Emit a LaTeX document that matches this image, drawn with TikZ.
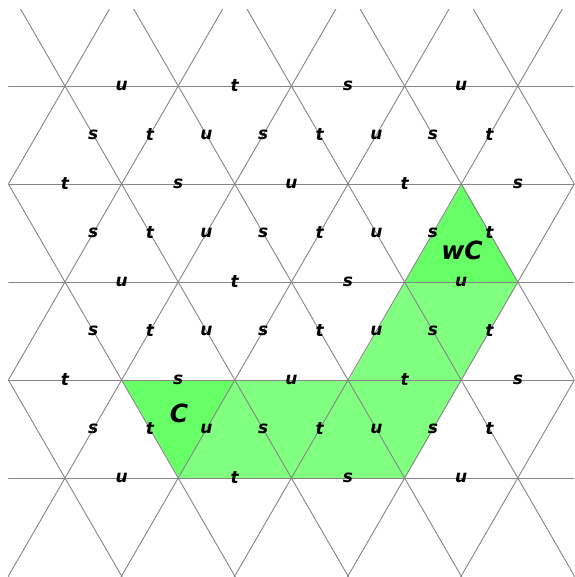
\documentclass[tikz,border=0pt]{standalone}
\usepackage{fontspec}
\setmainfont{DejaVu Sans}
\definecolor{latgray}{HTML}{858585}
\definecolor{darkgreen}{HTML}{66FF66}
\definecolor{lightgreen}{HTML}{80FF80}
\tikzset{
  latline/.style={draw=latgray, line width=0.9pt},
  edgelab/.style={font=\fontsize{17}{17}\selectfont\bfseries\itshape, inner sep=0pt},
  biglab/.style={font=\fontsize{25}{25}\selectfont\bfseries\itshape, inner sep=0pt}
}
\begin{document}
\begin{tikzpicture}[x=1pt,y=-1pt]
\useasboundingbox (0,0) rectangle (574,577);
% fills
\path[fill=lightgreen] (179,478) -- (235,380) -- (349,380) -- (405,282) -- (518,282) -- (405,478) -- cycle;
\path[fill=darkgreen] (122,380) -- (235,380) -- (179,478) -- cycle;
\path[fill=darkgreen] (462,184) -- (405,282) -- (518,282) -- cycle;
% lattice
\begin{scope}
\clip (8.4,10) rectangle (574.4,577);
\foreach \m in {-6,...,10}{
  \pgfmathsetmacro{\xx}{8.4+113.2*\m}
  \draw[latline] (\xx+5.66,585.8) -- (\xx-339.6,-12);
  \draw[latline] (\xx-5.66,585.8) -- (\xx+339.6,-12);
}
\foreach \yy in {86,184,282,380,478}{
  \draw[latline] (8.4,\yy) -- (574.4,\yy);
}
\end{scope}
% horizontal edge labels
\foreach \l [count=\i] in {u,t,s,u}{
  \node[edgelab] (ha\i) at (8.4+56.6+113.2*\i-56.6,86) {\l};
}
\foreach \l [count=\i] in {t,s,u,t,s}{
  \node[edgelab] (hb\i) at (65+113.2*\i-113.2,184) {\l};
}
\foreach \l [count=\i] in {u,t,s,u}{
  \node[edgelab] (hc\i) at (8.4+56.6+113.2*\i-56.6,282) {\l};
}
\foreach \l [count=\i] in {t,s,u,t,s}{
  \node[edgelab] (hd\i) at (65+113.2*\i-113.2,380) {\l};
}
\foreach \l [count=\i] in {u,t,s,u}{
  \node[edgelab] (he\i) at (8.4+56.6+113.2*\i-56.6,478) {\l};
}
% diagonal edge labels
\foreach \yy/\r in {135/a,233/b,331/c,429/d}{
  \foreach \l [count=\i] in {s,t,u,s,t,u,s,t}{
    \node[edgelab] (d\r\i) at (93.3+56.6*\i-56.6,\yy) {\l};
  }
}
\node[biglab] (C) at (179,413) {C};
\node[biglab] (wC) at (462,250) {wC};
\end{tikzpicture}
\end{document}
